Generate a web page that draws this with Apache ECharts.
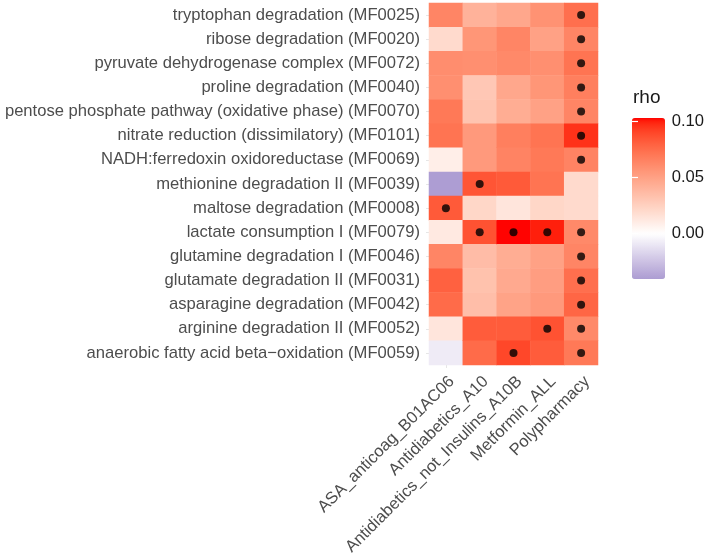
<!DOCTYPE html>
<html><head><meta charset="utf-8">
<script src="https://cdn.jsdelivr.net/npm/echarts@6/dist/echarts.min.js"></script>
<style>html,body{margin:0;padding:0;background:#fff}#c{width:707px;height:558px}</style>
</head><body><div id="c"></div>
<script>
var pathways = [
  'tryptophan degradation (MF0025)',
  'ribose degradation (MF0020)',
  'pyruvate dehydrogenase complex (MF0072)',
  'proline degradation (MF0040)',
  'pentose phosphate pathway (oxidative phase) (MF0070)',
  'nitrate reduction (dissimilatory) (MF0101)',
  'NADH:ferredoxin oxidoreductase (MF0069)',
  'methionine degradation II (MF0039)',
  'maltose degradation (MF0008)',
  'lactate consumption I (MF0079)',
  'glutamine degradation I (MF0046)',
  'glutamate degradation II (MF0031)',
  'asparagine degradation (MF0042)',
  'arginine degradation II (MF0052)',
  'anaerobic fatty acid beta\u2212oxidation (MF0059)'
];
var drugs = ['ASA_anticoag_B01AC06','Antidiabetics_A10','Antidiabetics_not_Insulins_A10B','Metformin_ALL','Polypharmacy'];
// rho values per pathway (rows) for each drug (columns)
var rhoASA        = [0.064,0.020,0.060,0.059,0.070,0.072,0.009,-0.040,0.083,0.012,0.064,0.080,0.076,0.014,-0.008];
var rhoA10        = [0.041,0.056,0.059,0.030,0.032,0.054,0.054,0.085,0.022,0.086,0.036,0.033,0.035,0.082,0.076];
var rhoA10B       = [0.047,0.064,0.062,0.047,0.044,0.067,0.065,0.083,0.014,0.103,0.044,0.046,0.049,0.082,0.090];
var rhoMetformin  = [0.058,0.050,0.059,0.056,0.050,0.072,0.070,0.072,0.022,0.100,0.050,0.052,0.054,0.086,0.082];
var rhoPoly       = [0.074,0.064,0.072,0.067,0.064,0.096,0.065,0.020,0.020,0.062,0.064,0.074,0.078,0.062,0.070];
// significance flags (1 = dot)
var sigASA        = [0,0,0,0,0,0,0,0,1,0,0,0,0,0,0];
var sigA10        = [0,0,0,0,0,0,0,1,0,1,0,0,0,0,0];
var sigA10B       = [0,0,0,0,0,0,0,0,0,1,0,0,0,0,1];
var sigMetformin  = [0,0,0,0,0,0,0,0,0,1,0,0,0,1,0];
var sigPoly       = [1,1,1,1,1,1,1,0,0,1,1,1,1,1,1];
var legendTicks = [0.00, 0.05, 0.10];
var rhoMin = -0.0404, rhoMax = 0.1033;

var rhoCols = [rhoASA, rhoA10, rhoA10B, rhoMetformin, rhoPoly];
var sigCols = [sigASA, sigA10, sigA10B, sigMetformin, sigPoly];
var heat = [], dots = [];
for (var c = 0; c < drugs.length; c++) {
  for (var r = 0; r < pathways.length; r++) {
    heat.push([c, r, rhoCols[c][r]]);
    if (sigCols[c][r]) dots.push([c, r]);
  }
}

// Lab interpolation (like ggplot's gradient2)
function srgb2lin(v){v/=255;return v<=0.04045?v/12.92:Math.pow((v+0.055)/1.055,2.4);}
function lin2srgb(v){v=v<=0.0031308?12.92*v:1.055*Math.pow(v,1/2.4)-0.055;return Math.max(0,Math.min(255,Math.round(v*255)));}
function toLab(rgb){var r=srgb2lin(rgb[0]),g=srgb2lin(rgb[1]),b=srgb2lin(rgb[2]);
  var x=(0.4124*r+0.3576*g+0.1805*b)/0.95047,y=(0.2126*r+0.7152*g+0.0722*b),z=(0.0193*r+0.1192*g+0.9505*b)/1.08883;
  function f(t){return t>0.008856?Math.cbrt(t):7.787*t+16/116;}
  var fx=f(x),fy=f(y),fz=f(z);return [116*fy-16,500*(fx-fy),200*(fy-fz)];}
function fromLab(l){var fy=(l[0]+16)/116,fx=fy+l[1]/500,fz=fy-l[2]/200;
  function fi(t){return t*t*t>0.008856?t*t*t:(t-16/116)/7.787;}
  var x=fi(fx)*0.95047,y=fi(fy),z=fi(fz)*1.08883;
  var r=3.2406*x-1.5372*y-0.4986*z,g=-0.9689*x+1.8758*y+0.0415*z,b=0.0557*x-0.2040*y+1.0570*z;
  return 'rgb('+lin2srgb(r)+','+lin2srgb(g)+','+lin2srgb(b)+')';}
var labW=toLab([255,255,255]), labR=toLab([255,0,0]), labP=toLab([172,156,210]);
function colAt(v){var t,e;if(v>=0){t=v/rhoMax;e=labR;}else{t=v/rhoMin;e=labP;}
  return fromLab([labW[0]+(e[0]-labW[0])*t,labW[1]+(e[1]-labW[1])*t,labW[2]+(e[2]-labW[2])*t]);}
var stops=[];for(var i=0;i<=60;i++){stops.push(colAt(rhoMin+(rhoMax-rhoMin)*i/60));}

var txt = '#4d4d4d';
var ff = 'Liberation Sans, Arial, sans-serif';
var fs = 16.6;
var chart = echarts.init(document.getElementById('c'));
chart.setOption({
  animation:false,
  grid:[{left:429,top:3,width:169,height:362},{left:632,top:118,width:33,height:161},
        {left:435,top:3,width:169,height:362}],
  xAxis:[{type:'category',data:drugs,gridIndex:0,
    axisLine:{show:false},axisTick:{show:true,alignWithLabel:true,length:3,lineStyle:{color:'#e6e6e6'}},
    splitLine:{show:false},axisLabel:{show:false}},
    {type:'value',gridIndex:1,show:false,min:0,max:1},
    {type:'category',data:drugs,gridIndex:2,
    axisLine:{show:false},axisTick:{show:false},splitLine:{show:false},
    axisLabel:{rotate:45,margin:20,color:txt,fontSize:fs,fontFamily:ff,interval:0}}],
  yAxis:[{type:'category',data:pathways,inverse:true,gridIndex:0,
    axisLine:{show:false},axisTick:{show:true,alignWithLabel:true,length:3,lineStyle:{color:'#e6e6e6'}},
    axisLabel:{margin:9,color:txt,fontSize:fs,fontFamily:ff,interval:0}},
    {type:'value',gridIndex:1,min:rhoMin,max:rhoMax,position:'right',z:10,
     splitLine:{show:false},axisLine:{show:false},
     axisTick:{show:true,inside:true,length:6,lineStyle:{color:'#fff',width:1.2},customValues:legendTicks},
     axisLabel:{show:true,margin:10,color:'#1a1a1a',fontSize:fs,fontFamily:ff,
       customValues:legendTicks,formatter:function(v){return v.toFixed(2);}}},
    {type:'value',gridIndex:1,min:rhoMin,max:rhoMax,position:'left',z:10,
     splitLine:{show:false},axisLine:{show:false},axisLabel:{show:false},
     axisTick:{show:true,inside:true,length:6,lineStyle:{color:'#fff',width:1.2},customValues:legendTicks}},
    {type:'value',gridIndex:2,show:false}],
  visualMap:{type:'continuous',min:rhoMin,max:rhoMax,seriesIndex:0,calculable:false,hoverLink:false,
    left:617,top:103,itemWidth:33,itemHeight:161,inRange:{color:stops},text:null,showLabel:false},
  graphic:[{type:'text',left:633,top:88,style:{text:'rho',fontSize:19,fill:'#1a1a1a',fontFamily:ff}}],
  series:[
    {type:'heatmap',data:heat,xAxisIndex:0,yAxisIndex:0,itemStyle:{borderWidth:0},emphasis:{disabled:true}},
    {type:'scatter',data:dots,xAxisIndex:0,yAxisIndex:0,symbol:'circle',symbolSize:8,itemStyle:{color:'#000'},z:5}
  ]
});
</script></body></html>
